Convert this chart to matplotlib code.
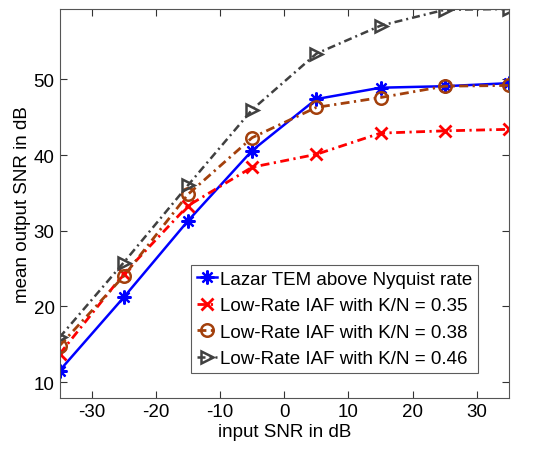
import numpy as np
import matplotlib
matplotlib.use('Agg')
import matplotlib.pyplot as plt

plt.rcParams['font.family'] = ['Liberation Sans', 'DejaVu Sans']
plt.rcParams['axes.unicode_minus'] = False

snrIn = [-35, -25, -15, -5, 5, 15, 25, 35]
lazar = [11.5, 21.2, 31.3, 40.6, 47.4, 48.9, 49.1, 49.5]
iaf035 = [13.7, 24.3, 33.3, 38.4, 40.1, 42.9, 43.2, 43.4]
iaf038 = [14.8, 24.0, 34.8, 42.3, 46.3, 47.6, 49.1, 49.2]
iaf046 = [15.9, 25.8, 36.0, 46.0, 53.4, 57.1, 59.2, 59.3]

labels = ['Lazar TEM above Nyquist rate',
          'Low-Rate IAF with K/N = 0.35',
          'Low-Rate IAF with K/N = 0.38',
          'Low-Rate IAF with K/N = 0.46']

brown = '#a3400c'
grey = '#404040'
fontSize = 13.5
dashDot = (0, (3.2, 1.6, 0.8, 1.6))

fig = plt.figure(figsize=(5.49, 4.52), dpi=100)
ax = fig.add_axes([59.5 / 549, 1 - 399 / 452, 449.5 / 549, 389 / 452])

ax.plot(snrIn, lazar, color='blue', ls='-', lw=1.8, marker=(8, 2, 0), ms=10, mew=1.6, label=labels[0])
ax.plot(snrIn, iaf035, color='red', ls=dashDot, lw=2, marker='x', ms=9, mew=2, label=labels[1])
ax.plot(snrIn, iaf038, color=brown, ls=dashDot, lw=2, marker='o', ms=9, mew=1.8, mfc='none', label=labels[2])
ax.plot(snrIn, iaf046, color=grey, ls=dashDot, lw=1.8, marker='>', ms=9, mew=1.8, mfc='none', label=labels[3])

ax.set_xlim(-35, 35)
ax.set_ylim(7.9, 59.3)
ax.set_xticks([-30, -20, -10, 0, 10, 20, 30])
ax.set_yticks([10, 20, 30, 40, 50])
ax.tick_params(axis='both', labelsize=fontSize, direction='in', length=5, width=0.8,
               top=True, right=True, colors='#333333', labelcolor='black')
for sp in ax.spines.values():
    sp.set_color('#555555')
    sp.set_linewidth(0.8)

ax.set_xlabel('input SNR in dB', fontsize=fontSize, labelpad=2)
ax.set_ylabel('mean output SNR in dB', fontsize=fontSize, labelpad=2)

leg = ax.legend(loc='lower right', bbox_to_anchor=(478 / 549, 1 - 374 / 452), bbox_transform=fig.transFigure,
                fontsize=fontSize, frameon=True, fancybox=False, handlelength=1.1, handletextpad=0.15,
                borderpad=0.3, labelspacing=0.5, borderaxespad=0, markerscale=1.0)
leg.get_frame().set_edgecolor('#333333')
leg.get_frame().set_linewidth(0.8)

fig.savefig('out.png', dpi=100)
